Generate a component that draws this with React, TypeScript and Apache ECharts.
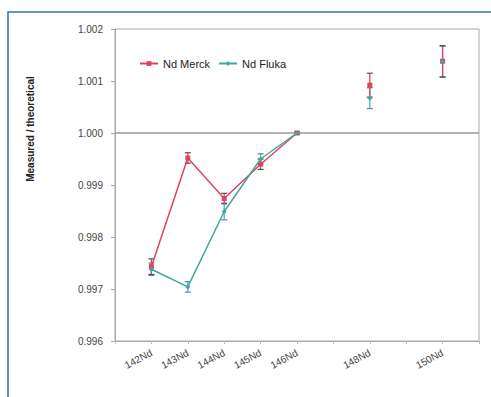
import React, { useEffect, useRef } from "react";
import * as echarts from "echarts";

const isotopes = [142, 143, 144, 145, 146, 148, 150];
const merck = [0.99743, 0.99952, 0.99874, 0.9994, 1.0, 1.00092, 1.00138];
const merckErr = [0.00015, 0.0001, 0.0001, 0.0001, 0.00002, 0.00023, 0.0003];
const fluka = [0.99738, 0.99704, 0.99849, 0.9995, 1.0, 1.00067, 1.00137];
const flukaErr = [0.00012, 0.0001, 0.00016, 0.0001, 0.00002, 0.0002, 0.0003];
const yTicks = [0.996, 0.997, 0.998, 0.999, 1.0, 1.001, 1.002];

const RED = "#e2425f";
const TEAL = "#3fa89c";
const CYAN = "#4ab2d2";
const FONT = "Liberation Sans, Arial, sans-serif";

function withGaps(vals: number[]) {
  const out: any[] = [];
  isotopes.forEach((x, i) => {
    if (i > 0 && x - isotopes[i - 1] > 1) out.push([x - 1, "-"]);
    out.push([x, vals[i]]);
  });
  return out;
}

function errData(vals: number[], errs: number[]) {
  return isotopes.map((x, i) => [x, vals[i] - errs[i], vals[i] + errs[i]]);
}

function errSeries(name: string, vals: number[], errs: number[], color: string, capColor: string, z: number) {
  return {
    type: "custom",
    name: name + "-err",
    silent: true,
    z,
    encode: { x: 0, y: [1, 2] },
    data: errData(vals, errs),
    renderItem: (params: any, api: any) => {
      const x = api.value(0);
      const lo = api.coord([x, api.value(1)]);
      const hi = api.coord([x, api.value(2)]);
      const w = 3;
      const st = { stroke: color, lineWidth: 1.3 };
      const cs = { stroke: capColor, lineWidth: 1.2 };
      return {
        type: "group",
        children: [
          { type: "line", shape: { x1: lo[0], y1: lo[1], x2: hi[0], y2: hi[1] }, style: st },
          { type: "line", shape: { x1: lo[0] - w, y1: lo[1], x2: lo[0] + w, y2: lo[1] }, style: cs },
          { type: "line", shape: { x1: hi[0] - w, y1: hi[1], x2: hi[0] + w, y2: hi[1] }, style: cs },
        ],
      };
    },
  };
}

export default function App() {
  const ref = useRef<HTMLDivElement>(null);
  useEffect(() => {
    if (!ref.current) return;
    const chart = echarts.init(ref.current, null, { renderer: "svg" });
    const labelSet = new Set(isotopes);
    chart.setOption({
      animation: false,
      backgroundColor: "#ffffff",
      textStyle: { fontFamily: FONT },
      graphic: [
        {
          type: "rect",
          shape: { x: 8, y: 12, width: 500, height: 400 },
          style: { fill: "none", stroke: "#2f74b5", lineWidth: 1.5 },
          z: 0,
        },
        {
          type: "text",
          x: 30,
          y: 129,
          rotation: Math.PI / 2,
          style: {
            text: "Measured / theoretical",
            font: "bold 10px " + FONT,
            fill: "#222",
            align: "center",
            verticalAlign: "middle",
          },
        },
      ],
      legend: {
        left: 134,
        top: 53,
        itemWidth: 18,
        itemHeight: 6,
        itemGap: 8,
        data: ["Nd Merck", "Nd Fluka"],
        textStyle: { fontSize: 11, color: "#222", fontFamily: FONT },
      },
      grid: {
        left: 115,
        right: 12,
        top: 29,
        bottom: 56,
        show: true,
        borderColor: "#a8a8a8",
        borderWidth: 1,
      },
      xAxis: {
        type: "value",
        min: 141,
        max: 151,
        interval: 1,
        splitLine: { show: false },
        axisLine: { lineStyle: { color: "#a8a8a8" } },
        axisTick: { length: 3, lineStyle: { color: "#bbb" } },
        axisLabel: {
          rotate: 28,
          fontSize: 10,
          color: "#444",
          margin: 11,
          formatter: (v: number) => (labelSet.has(v) ? `${v}Nd` : ""),
        },
      },
      yAxis: {
        type: "value",
        min: yTicks[0],
        max: yTicks[yTicks.length - 1],
        interval: 0.001,
        splitLine: { show: false },
        axisLine: { show: true, lineStyle: { color: "#a8a8a8" } },
        axisTick: { show: true, length: 4, lineStyle: { color: "#a8a8a8" } },
        axisLabel: {
          fontSize: 10,
          color: "#444",
          margin: 12,
          formatter: (v: number) => v.toFixed(3),
        },
      },
      series: [
        {
          type: "line",
          name: "Nd Merck",
          data: withGaps(merck),
          color: RED,
          symbol: "rect",
          symbolSize: 5,
          lineStyle: { width: 1.5, color: RED },
          itemStyle: { color: RED },
          z: 4,
          markLine: {
            silent: true,
            symbol: "none",
            label: { show: false },
            lineStyle: { color: "#9a9a9a", width: 1.5, type: "solid" },
            data: [{ yAxis: 1.0 }],
          },
        },
        {
          type: "line",
          name: "Nd Fluka",
          data: withGaps(fluka),
          color: TEAL,
          symbol: "diamond",
          symbolSize: 5,
          lineStyle: { width: 1.5, color: TEAL },
          itemStyle: { color: TEAL },
          z: 5,
        },
        errSeries("Nd Fluka", fluka, flukaErr, CYAN, "#4a8fa8", 3),
        errSeries("Nd Merck", merck, merckErr, RED, "#5a4a5e", 3),
      ],
    });
    return () => chart.dispose();
  }, []);
  return (
    <div
      ref={ref}
      style={{ position: "absolute", left: 0, top: 0, width: 491, height: 397 }}
    />
  );
}
